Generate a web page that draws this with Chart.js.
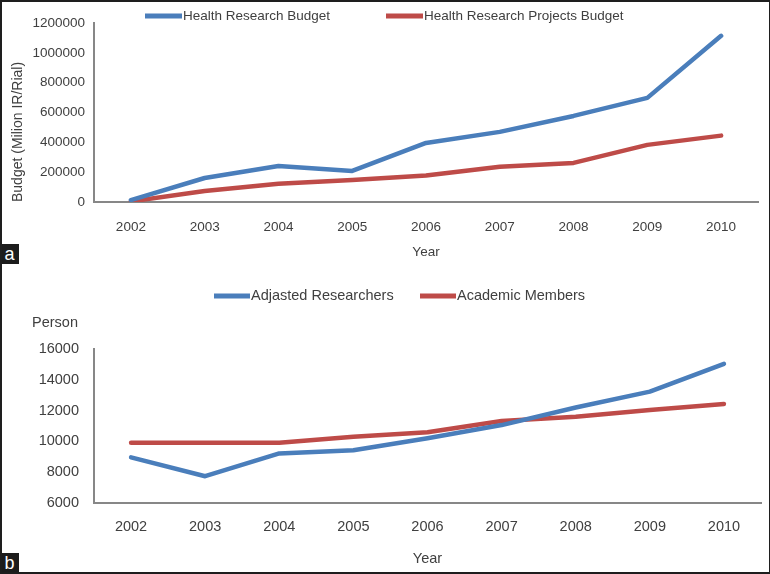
<!DOCTYPE html>
<html>
<head>
<meta charset="utf-8">
<title>Health research budget and researchers</title>
<script src="https://cdn.jsdelivr.net/npm/chart.js@4.4.0/dist/chart.umd.min.js"></script>
<style>
  html, body { margin: 0; padding: 0; background: #fff; }
  #frame { position: relative; width: 770px; height: 574px; overflow: hidden; }
  .panel { position: absolute; left: 0; width: 770px; }
  #panelA { top: 0; height: 270px; }
  #panelB { top: 270px; height: 304px; }
  .tag {
    position: absolute; left: 0; width: 19px; height: 20px; line-height: 19px;
    background: #1c1c1c; color: #fff; text-align: center;
    font: 18px 'Liberation Sans', Arial, sans-serif;
  }
  #border {
    position: absolute; left: 0; top: 0; width: 770px; height: 574px;
    box-sizing: border-box; border: solid #1e1e1e; border-width: 2px 1px 2px 2px;
    pointer-events: none;
  }
</style>
</head>
<body>
<div id="frame">
  <div class="panel" id="panelA"><canvas id="chartA"></canvas></div>
  <div class="panel" id="panelB"><canvas id="chartB"></canvas></div>
  <div class="tag" style="top:244px">a</div>
  <div class="tag" style="top:553px">b</div>
  <div id="border"></div>
</div>
<script>
// data
const years = ['2002', '2003', '2004', '2005', '2006', '2007', '2008', '2009', '2010'];

const researchBudget = [13000, 161000, 241000, 208000, 396000, 470000, 577000, 698000, 1114000];
const projectsBudget = [4000, 74000, 123000, 148000, 177000, 237000, 262000, 383000, 445000];
const budgetTicks = [0, 200000, 400000, 600000, 800000, 1000000, 1200000];

const adjustedResearchers = [8960, 7740, 9220, 9430, 10200, 11060, 12200, 13230, 15040];
const academicMembers = [9910, 9910, 9910, 10300, 10590, 11320, 11600, 12040, 12430];
const personTicks = [6000, 8000, 10000, 12000, 14000, 16000];

const BLUE = '#4a7ebb';
const RED = '#be4b48';
const TEXT = '#404040';
const AXIS = '#878787';
const FONT = "'Liberation Sans', Arial, sans-serif";

Chart.defaults.font.family = FONT;
Chart.defaults.color = TEXT;

// Excel style legend: short thick line then the label, placed where the figure has it
const lineLegend = {
    id: 'lineLegend',
    afterDraw(chart, args, opts) {
        const ctx = chart.ctx;
        ctx.save();
        ctx.font = opts.fontSize + 'px ' + FONT;
        ctx.textBaseline = 'middle';
        ctx.fillStyle = TEXT;
        chart.data.datasets.forEach((ds, i) => {
            const x = opts.starts[i];
            ctx.strokeStyle = ds.borderColor;
            ctx.lineWidth = 5;
            ctx.beginPath();
            ctx.moveTo(x, opts.y);
            ctx.lineTo(x + opts.lineLength, opts.y);
            ctx.stroke();
            ctx.fillText(ds.label, x + opts.lineLength + 1, opts.y);
        });
        (opts.notes || []).forEach(n => ctx.fillText(n.text, n.x, n.y));
        ctx.restore();
    }
};

function lineSet(label, data, color) {
    return {
        label: label,
        data: data,
        borderColor: color,
        backgroundColor: color,
        borderWidth: 4.5,
        borderCapStyle: 'round',
        borderJoinStyle: 'round',
        pointRadius: 0,
        tension: 0,
    };
}

function makeChart(canvasId, cfg) {
    const ctx = document.getElementById(canvasId).getContext('2d');
    return new Chart(ctx, {
        type: 'line',
        data: {
            labels: years,
            datasets: cfg.datasets,
        },
        plugins: [lineLegend],
        options: {
            responsive: true,
            maintainAspectRatio: false,
            animation: false,
            layout: { padding: cfg.padding },
            plugins: {
                legend: { display: false },
                tooltip: { enabled: false },
                lineLegend: cfg.legend,
            },
            scales: {
                x: {
                    type: 'category',
                    offset: true,
                    grid: { display: false, drawTicks: false },
                    border: { color: AXIS, width: 2 },
                    ticks: { font: { size: cfg.fontSize }, padding: cfg.xTickPad, maxRotation: 0 },
                    title: {
                        display: true,
                        text: 'Year',
                        font: { size: cfg.fontSize },
                        padding: { top: 0, bottom: cfg.xTitlePad },
                    },
                    afterFit: s => { s.height = cfg.xHeight; },
                },
                y: {
                    min: cfg.ticks[0],
                    max: cfg.ticks[cfg.ticks.length - 1],
                    grid: { display: false, drawTicks: false },
                    border: { color: AXIS, width: 2 },
                    ticks: {
                        font: { size: cfg.fontSize },
                        padding: cfg.yTickPad,
                        callback: v => String(v),
                    },
                    afterBuildTicks: s => { s.ticks = cfg.ticks.map(v => ({ value: v })); },
                    title: cfg.yTitle,
                    afterFit: s => { s.width = 94; },
                },
            },
        },
    });
}

makeChart('chartA', {
    datasets: [
        lineSet('Health Research Budget', researchBudget, BLUE),
        lineSet('Health Research Projects Budget', projectsBudget, RED),
    ],
    ticks: budgetTicks,
    fontSize: 13.5,
    padding: { left: 0, right: 12, top: 23, bottom: 0 },
    xHeight: 68,
    xTickPad: 17,
    xTitlePad: 10,
    yTickPad: 9,
    yTitle: {
        display: true,
        text: 'Budget (Milion IR/Rial)',
        align: 'start',
        font: { size: 14 },
        padding: { top: 10, bottom: 0 },
    },
    legend: { fontSize: 13.5, y: 16, lineLength: 37, starts: [145, 386] },
});

makeChart('chartB', {
    datasets: [
        lineSet('Adjasted Researchers', adjustedResearchers, BLUE),
        lineSet('Academic Members', academicMembers, RED),
    ],
    ticks: personTicks,
    fontSize: 14.5,
    padding: { left: 0, right: 9, top: 79, bottom: 0 },
    xHeight: 71,
    xTickPad: 15,
    xTitlePad: 6,
    yTickPad: 15,
    yTitle: { display: false },
    legend: {
        fontSize: 14.5, y: 26, lineLength: 36, starts: [214, 420],
        notes: [{ text: 'Person', x: 32, y: 53 }],
    },
});
</script>
</body>
</html>
